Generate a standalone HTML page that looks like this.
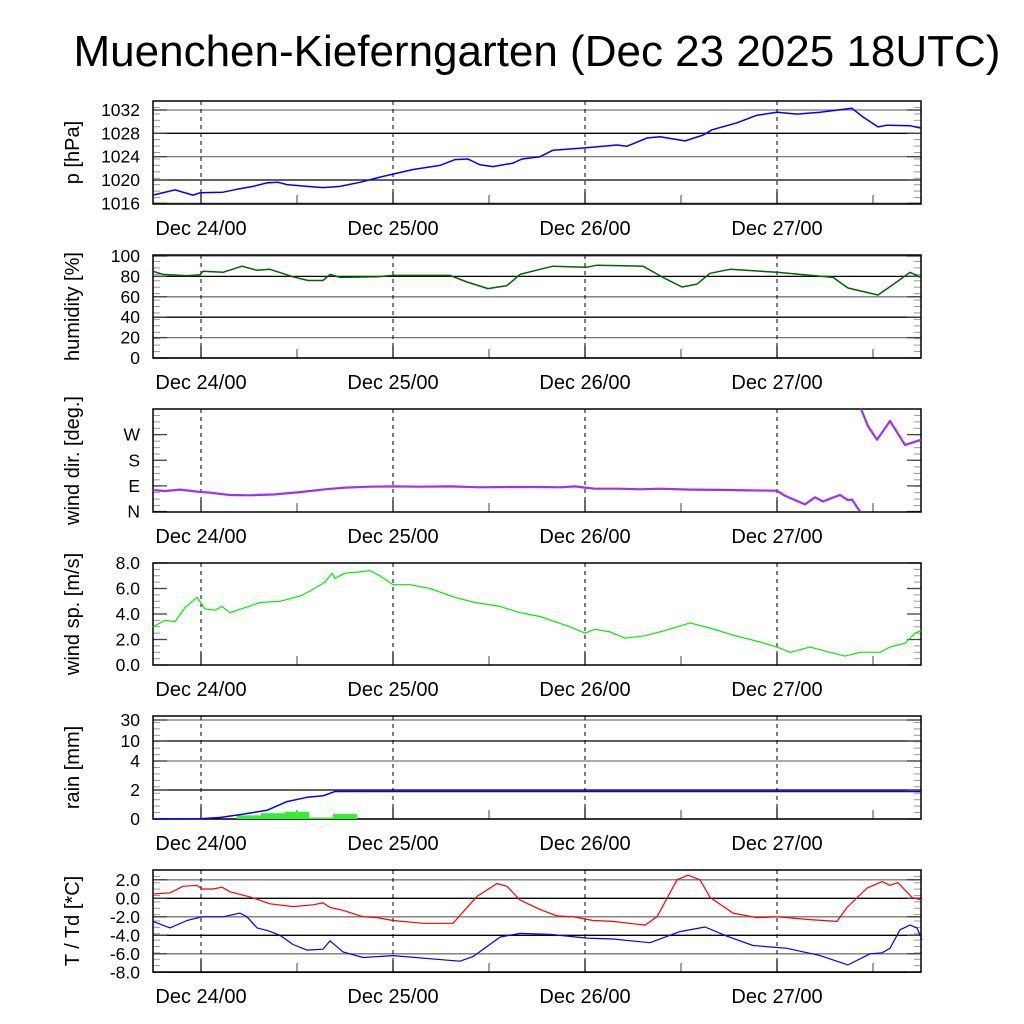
<!DOCTYPE html>
<html><head><meta charset="utf-8">
<style>
html,body{margin:0;padding:0;background:#fff;}
svg{display:block;font-family:"Liberation Sans",sans-serif;}
</style></head>
<body>
<svg id="chart" width="1024" height="1024" viewBox="0 0 1024 1024">
<text x="537" y="66" font-size="44" text-anchor="middle" fill="#000">Muenchen-Kieferngarten (Dec 23 2025 18UTC)</text>
</svg>
<script>
// ---- data (hours since Dec 23 18UTC) ----
const dayLabels = ["Dec 24/00","Dec 25/00","Dec 26/00","Dec 27/00"];
const dayHours = [6,30,54,78];

const presX = [153,175,193,200,223,237,253,267,278,287,307,323,340,360,380,393,413,440,455,468,480,493,513,522,540,553,585,617,627,647,660,685,703,712,737,757,777,797,820,852,863,878,887,910,921];
const presV = [1017.4,1018.3,1017.4,1017.8,1017.9,1018.4,1018.9,1019.5,1019.6,1019.2,1018.9,1018.7,1018.9,1019.6,1020.5,1021.0,1021.8,1022.5,1023.5,1023.6,1022.6,1022.3,1022.9,1023.6,1024.0,1025.1,1025.5,1026.0,1025.8,1027.2,1027.4,1026.7,1027.7,1028.6,1029.8,1031.1,1031.6,1031.3,1031.6,1032.3,1030.8,1029.1,1029.4,1029.3,1028.9];

const humX = [153,163,187,200,203,223,242,257,270,293,308,323,330,340,377,393,450,467,488,507,520,540,553,587,597,643,663,682,697,710,730,777,833,848,878,893,910,921];
const humV = [85,82,80.6,81.7,85,84,90,86,87,79.6,76,76,82,79,79.6,81,81,74.5,68,71,82,87,90,89,91,90,79,69.6,72.5,83,87,84,79,68.6,61.8,72,84,79];

const wdX = [153,165,180,197,210,230,250,275,300,325,345,370,393,420,450,480,510,540,560,575,585,595,620,640,660,690,720,750,777,785,795,805,815,823,830,840,848,852,860,861,868,877,890,905,921];
const wdV = [75,72,77,70,66,58,57,60,68,78,84,87,88,87,88,85,86,86,85,88,84,80,80,78,80,77,76,74,73,55,40,25,50,35,45,58,40,42,0,360,300,252,318,234,252];

const wsX = [153,165,175,185,197,205,215,222,230,245,260,280,300,310,325,332,335,345,360,370,380,393,410,430,455,475,500,520,540,570,585,595,610,625,645,665,690,710,735,760,777,790,810,830,845,860,880,890,905,915,921];
const wsV = [3.0,3.5,3.4,4.5,5.3,4.4,4.3,4.6,4.1,4.5,4.9,5.0,5.4,5.8,6.5,7.2,6.8,7.2,7.3,7.4,7.0,6.3,6.3,6.0,5.3,4.9,4.6,4.1,3.8,3.0,2.5,2.8,2.6,2.1,2.3,2.7,3.3,2.9,2.3,1.8,1.4,1.0,1.4,1.0,0.7,1.0,1.0,1.4,1.7,2.5,2.7];

const rainSumX = [153,200,220,240,267,287,307,323,335,921];
const rainSumV = [0,0.02,0.1,0.3,0.6,1.2,1.5,1.6,1.9,1.9];
const rainBinStart = [10.5,13.5,16.5,19.5,22.5];
const rainBinV = [0.25,0.4,0.5,0.1,0.35];

const tX = [153,170,183,197,202,213,222,230,250,270,293,313,323,330,343,363,377,393,423,453,477,497,507,520,540,557,573,593,613,645,657,677,688,700,710,733,757,777,810,837,847,867,882,890,898,912,922];
const tV = [0.46,0.6,1.3,1.4,1.0,1.0,1.2,0.7,0.15,-0.6,-0.9,-0.7,-0.5,-1.0,-1.3,-2.0,-2.1,-2.4,-2.7,-2.7,0.2,1.6,1.3,-0.2,-1.2,-1.9,-2.0,-2.4,-2.5,-2.9,-2.0,2.0,2.5,2.0,0.1,-1.6,-2.1,-2.0,-2.3,-2.5,-1.0,1.1,1.8,1.4,1.7,0.1,-0.2];
const tdX = [153,170,187,202,223,240,247,257,268,280,293,307,323,330,343,363,393,437,460,473,500,520,550,587,613,650,680,705,727,753,787,820,848,870,882,890,900,910,917,922];
const tdV = [-2.5,-3.2,-2.4,-2.0,-2.0,-1.6,-2.0,-3.2,-3.5,-4.0,-5.0,-5.6,-5.5,-4.6,-5.8,-6.4,-6.2,-6.6,-6.8,-6.3,-4.2,-3.8,-3.9,-4.3,-4.4,-4.8,-3.6,-3.1,-4.1,-5.1,-5.4,-6.2,-7.2,-6.0,-5.9,-5.4,-3.4,-2.9,-3.2,-4.5];

// ---- layout ----
const NS = "http://www.w3.org/2000/svg";
const svg = document.getElementById('chart');
const X0 = 153, X1 = 921, H0 = 0, H1 = 96;
function xh(h){ return X0 + (h - H0) * (X1 - X0) / (H1 - H0); }
function mk(tag, attrs, parent){
  const e = document.createElementNS(NS, tag);
  for (const k in attrs) e.setAttribute(k, attrs[k]);
  (parent || svg).appendChild(e);
  return e;
}
function linScale(v0, v1, y0, y1){ return v => y0 + (v - v0) * (y1 - y0) / (v1 - v0); }

function panel(name, top, bot, yFn, ticks, tickLabels, grid, ylabel){
  const g = mk('g', {});
  
  
  if (grid){
    ticks.forEach((t, i) => {
      const y = yFn(t);
      const l = mk('line', {x1:X0, x2:X1, y1:y, y2:y, stroke: i % 2 ? '#000' : '#777', 'stroke-width':1.3}, g);
      
      
    });
  }
  const n = 16;
  for (let i = 1; i < n; i++){
    const y = top + (bot - top) * i / n;
    mk('line', {x1:X0, x2:X0+7, y1:y, y2:y, stroke:'#999', 'stroke-width':1}, g);
    mk('line', {x1:X1, x2:X1-7, y1:y, y2:y, stroke:'#999', 'stroke-width':1}, g);
  }
  ticks.forEach((t, i) => {
    const y = yFn(t);
    mk('line', {x1:X0, x2:X0+14, y1:y, y2:y, stroke:'#444', 'stroke-width':1.3}, g);
    mk('line', {x1:X1, x2:X1-14, y1:y, y2:y, stroke:'#444', 'stroke-width':1.3}, g);
    const tx = mk('text', {x:140, y:y+6, 'font-size':17.5, 'text-anchor':'end'}, g);
    
    
    tx.textContent = tickLabels[i];
  });
  dayHours.forEach((h, i) => {
    const x = xh(h);
    mk('line', {x1:x, x2:x, y1:top, y2:bot, stroke:'#000', 'stroke-width':1, 'stroke-dasharray':'4,4'}, g);
    mk('line', {x1:x, x2:x, y1:bot-12, y2:bot, stroke:'#000', 'stroke-width':1.2}, g);
    const tx = mk('text', {x:x, y:bot+31, 'font-size':20, 'text-anchor':'middle'}, g);
    
    
    tx.textContent = dayLabels[i];
  });
  [18,42,66,90].forEach(h => {
    const x = xh(h);
    mk('line', {x1:x, x2:x, y1:bot-9, y2:bot, stroke:'#444', 'stroke-width':1}, g);
  });
  const r = mk('rect', {x:X0, y:top, width:X1-X0, height:bot-top, fill:'none', stroke:'#000', 'stroke-width':1.5}, g);
  
  
  const cy = (top + bot) / 2;
  const yl = mk('text', {x:0, y:0, 'font-size':20, 'text-anchor':'middle', transform:`translate(79,${cy}) rotate(-90)`}, g);
  
  
  yl.textContent = ylabel;
  return g;
}

function series(name, xs, vs, yFn, color, width, g, breakWrap){
  let d = '';
  xs.forEach((x, i) => {
    const y = yFn(vs[i]);
    const jump = breakWrap && i > 0 && Math.abs(vs[i] - vs[i-1]) > 180;
    d += (i === 0 || jump ? 'M' : 'L') + x.toFixed(1) + ',' + y.toFixed(1) + ' ';
  });
  const p = mk('path', {d:d, fill:'none', stroke:color, 'stroke-width':width, 'stroke-linejoin':'round'}, g);
  
  
  return p;
}

const yP = linScale(1016, 1032, 203.3, 110);
const gP = panel('pressure', 101, 204, yP, [1032,1028,1024,1020,1016], ['1032','1028','1024','1020','1016'], true, 'p [hPa]');
series('pressure-line', presX, presV, yP, '#0000ff', 1.5, gP);

const yHm = linScale(0, 100, 358, 256);
const gH = panel('humidity', 255, 358, yHm, [100,80,60,40,20,0], ['100','80','60','40','20','0'], true, 'humidity [%]');
series('humidity-line', humX, humV, yHm, '#006400', 1.5, gH);

const yWd = linScale(0, 360, 511.5, 409);
const gW = panel('wind-dir', 409, 512, yWd, [270,180,90,0], ['W','S','E','N'], false, 'wind dir. [deg.]');
series('wind-dir-line', wdX, wdV, v => Math.min(511.5, Math.max(409, yWd(v))), '#9b30ff', 2.2, gW, true);

const yWs = linScale(0, 8, 665, 563);
const gS = panel('wind-speed', 563, 665, yWs, [8,6,4,2,0], ['8.0','6.0','4.0','2.0','0.0'], false, 'wind sp. [m/s]');
series('wind-speed-line', wsX, wsV, yWs, '#00ee00', 1.2, gS);

const rainTickV = [0,2,4,10,30];
const rainTickY = [819,790,761,741,720];
function yR(v){
  for (let i = 0; i < rainTickV.length - 1; i++){
    if (v <= rainTickV[i+1]) return rainTickY[i] + (v - rainTickV[i]) * (rainTickY[i+1] - rainTickY[i]) / (rainTickV[i+1] - rainTickV[i]);
  }
  return rainTickY[rainTickY.length-1];
}
const gR = panel('rain', 716, 819, yR, rainTickV, ['0','2','4','10','30'], true, 'rain [mm]');
rainBinStart.forEach((h, i) => {
  const x = xh(h), w = xh(h + 3) - x, y = yR(rainBinV[i]);
  const b = mk('rect', {x:x, y:y, width:w, height:819 - y, fill:'#33ee33'}, gR);
  
  
});
series('rain-cumulative-line', rainSumX, rainSumV, yR, '#0000ff', 1.5, gR);

const yT = linScale(0, 2, 898.3, 879.8);
const gT = panel('temperature', 870, 972, yT, [2,0,-2,-4,-6,-8], ['2.0','0.0','-2.0','-4.0','-6.0','-8.0'], true, 'T / Td [*C]');
series('temperature-line', tX, tV, yT, '#ff0000', 1.2, gT);
series('dewpoint-line', tdX, tdV, yT, '#0000ff', 1.2, gT);
</script>
</body></html>
